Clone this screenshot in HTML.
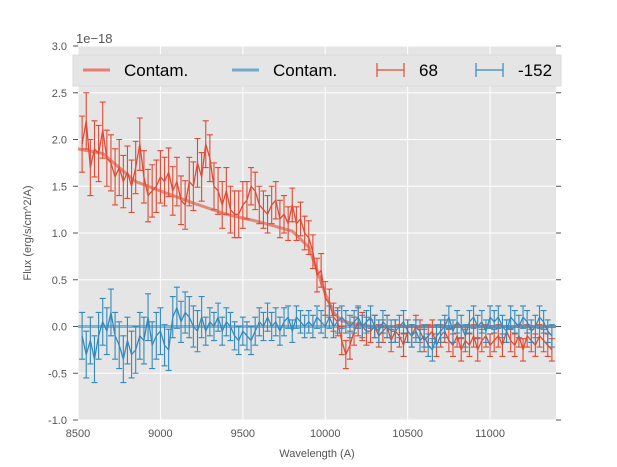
<!DOCTYPE html>
<html><head><meta charset="utf-8"><style>body{margin:0;background:#fff}svg{display:block;font-family:"Liberation Sans",sans-serif}</style></head>
<body>
<svg id="chart" width="617" height="467" viewBox="0 0 617 467" xmlns="http://www.w3.org/2000/svg">
<rect x="78" y="46" width="478" height="374" fill="#e5e5e5"/>
<g id="grid"></g><g id="marks"></g><g id="axes"></g>
<text x="76" y="43" font-size="13" fill="#555">1e−18</text>
<text x="317" y="457" font-size="11" fill="#555" text-anchor="middle">Wavelength (A)</text>
<text transform="translate(31,233) rotate(-90)" font-size="11" fill="#555" text-anchor="middle">Flux (erg/s/cm^2/A)</text>
<g>
<rect x="73" y="55" width="488" height="31" fill="#e5e5e5" stroke="#dcdcdc"/>
<line x1="83" y1="70" x2="110" y2="70" stroke="#E24A33" stroke-opacity="0.65" stroke-width="3"/>
<text x="124" y="76" font-size="17">Contam.</text>
<line x1="232" y1="70" x2="259" y2="70" stroke="#348ABD" stroke-opacity="0.65" stroke-width="3"/>
<text x="273" y="76" font-size="17">Contam.</text>
<g stroke="#E24A33" stroke-width="1.2"><line x1="377" y1="70" x2="404" y2="70"/><line x1="377" y1="63" x2="377" y2="77"/><line x1="404" y1="63" x2="404" y2="77"/></g>
<text x="419" y="76" font-size="17">68</text>
<g stroke="#348ABD" stroke-width="1.2"><line x1="476" y1="70" x2="503" y2="70"/><line x1="476" y1="63" x2="476" y2="77"/><line x1="503" y1="63" x2="503" y2="77"/></g>
<text x="518" y="76" font-size="17">-152</text>
</g>
</svg>
<script>
const xTicks=[8500,9000,9500,10000,10500,11000];
const yTicks=[-1.0,-0.5,0.0,0.5,1.0,1.5,2.0,2.5,3.0];
const wave=[8525,8550,8575,8600,8625,8650,8675,8700,8725,8750,8775,8800,8825,8850,8875,8900,8925,8950,8975,9000,9025,9050,9075,9100,9125,9150,9175,9200,9225,9250,9275,9300,9325,9350,9375,9400,9425,9450,9475,9500,9525,9550,9575,9600,9625,9650,9675,9700,9725,9750,9775,9800,9825,9850,9875,9900,9925,9950,9975,10000,10025,10050,10075,10100,10125,10150,10175,10200,10225,10250,10275,10300,10325,10350,10375,10400,10425,10450,10475,10500,10525,10550,10575,10600,10625,10650,10675,10700,10725,10750,10775,10800,10825,10850,10875,10900,10925,10950,10975,11000,11025,11050,11075,11100,11125,11150,11175,11200,11225,11250,11275,11300,11325,11350,11375];
const redFlux=[1.95,2.2,1.7,1.9,1.85,2.1,1.8,1.75,1.6,1.7,1.55,1.65,1.5,1.7,1.95,1.6,1.4,1.45,1.5,1.6,1.55,1.65,1.45,1.55,1.35,1.3,1.55,1.5,1.75,1.6,1.95,1.8,1.5,1.45,1.3,1.45,1.25,1.2,1.2,1.3,1.35,1.5,1.45,1.3,1.25,1.2,1.3,1.35,1.15,1.2,1.1,1.3,1.1,1.15,1.0,0.95,0.8,0.55,0.6,0.3,0.25,0.1,0.05,-0.15,-0.3,-0.2,-0.05,0.05,0.0,-0.05,-0.05,0.0,-0.1,-0.05,0.0,-0.15,-0.05,-0.1,-0.2,-0.05,-0.1,0.0,-0.05,-0.15,-0.1,-0.05,-0.2,-0.1,-0.05,-0.15,-0.2,-0.1,-0.25,-0.15,-0.2,-0.1,-0.25,-0.15,-0.1,-0.2,-0.15,-0.1,-0.2,-0.05,-0.15,-0.2,-0.1,-0.25,-0.1,-0.15,-0.2,-0.1,-0.15,-0.2,-0.25];
const redErrBlock=[0.3,0.28,0.26,0.25,0.2,0.18,0.15,0.12,0.12,0.12,0.12,0.12];
const blueFlux=[-0.1,-0.3,-0.15,-0.35,-0.1,0.05,-0.05,0.15,-0.1,-0.2,-0.35,-0.15,-0.3,-0.25,-0.1,-0.15,0.1,-0.2,-0.1,-0.05,-0.2,-0.25,0.1,0.2,0.05,0.15,0.1,0.0,-0.05,0.1,-0.05,0.05,0.0,0.1,-0.05,0.05,0.0,-0.1,-0.15,-0.05,-0.1,-0.15,-0.05,0.05,0.0,0.1,0.0,0.05,-0.05,0.05,0.1,-0.05,0.1,0.05,0.0,0.05,0.0,0.1,0.05,0.0,0.1,0.0,0.05,0.1,0.05,0.0,0.05,0.1,0.0,0.05,0.1,0.0,-0.05,0.05,0.0,-0.05,-0.05,0.0,0.05,-0.05,-0.1,-0.05,-0.15,-0.1,-0.2,-0.25,-0.1,-0.05,0.0,0.1,-0.05,0.05,0.0,-0.1,0.05,0.1,0.0,0.05,-0.05,0.1,0.05,0.1,0.0,-0.05,0.1,0.05,0.0,0.1,0.05,-0.05,0.0,0.1,0.05,-0.05,-0.1];
const blueErrBlock=[0.25,0.25,0.22,0.15,0.15,0.12,0.12,0.12,0.12,0.12,0.12,0.12];
const contamWave=[8500,8650,8750,8850,9000,9200,9400,9600,9800,9900,9950,10000,10050,10100,10200,10300,11400];
const contamRed=[1.9,1.85,1.7,1.55,1.45,1.32,1.2,1.12,1.02,0.85,0.6,0.35,0.15,0.06,0.02,0,0];
const contamBlue=[0,0,0,0,0,0,0,0,0,0,0,0,0,0,0,0,0];

const NS="http://www.w3.org/2000/svg";
const X=w=>78+(w-8500)*478/2900;
const Y=v=>420-(v+1)*374/4;
function mk(parent,tag,attrs){const e=document.createElementNS(NS,tag);for(const k in attrs)e.setAttribute(k,attrs[k]);document.getElementById(parent).appendChild(e);return e;}
xTicks.forEach(t=>{
  const g=mk('grid','line',{x1:X(t),x2:X(t),y1:46,y2:420,stroke:'#fff','stroke-width':1});
  
  
  const l=mk('axes','text',{x:X(t),y:437,'font-size':11,fill:'#555','text-anchor':'middle'});
  l.textContent=t;
  
  
});
yTicks.forEach(t=>{
  const g=mk('grid','line',{x1:78,x2:556,y1:Y(t),y2:Y(t),stroke:'#fff','stroke-width':1});
  
  
  mk('axes','line',{x1:73,x2:78,y1:Y(t),y2:Y(t),stroke:'#555'});
  mk('axes','line',{x1:556,x2:561,y1:Y(t),y2:Y(t),stroke:'#555'});
  const l=mk('axes','text',{x:67,y:Y(t)+4,'font-size':11,fill:'#555','text-anchor':'end'});
  l.textContent=t.toFixed(1);
  
  
});
function line(ws,vs,color,width,op,name){
  const p=mk('marks','polyline',{points:ws.map((w,i)=>X(w)+','+Y(vs[i])).join(' '),fill:'none',stroke:color,'stroke-width':width,'stroke-opacity':op,'stroke-linejoin':'round'});
  
  
}
function errs(vs,eb,color,name){
  const g=mk('marks','g',{stroke:color,'stroke-width':1.1});
  
  
  wave.forEach((w,i)=>{const e=eb[Math.floor(i/10)],x=X(w),y1=Y(vs[i]-e),y2=Y(vs[i]+e);
    const a=document.createElementNS(NS,'path');a.setAttribute('d',`M${x},${y1}V${y2}M${x-3},${y1}H${x+3}M${x-3},${y2}H${x+3}`);g.appendChild(a);});
}
line(contamWave,contamRed,'#E24A33',3,0.6,'contam-red-line');
line(contamWave,contamBlue,'#348ABD',3,0.6,'contam-blue-line');
errs(redFlux,redErrBlock,'#E24A33','red-errorbars');
line(wave,redFlux,'#E24A33',1.3,1,'flux-68-line');
errs(blueFlux,blueErrBlock,'#348ABD','blue-errorbars');
line(wave,blueFlux,'#348ABD',1.3,1,'flux-152-line');
</script>
</body></html>
